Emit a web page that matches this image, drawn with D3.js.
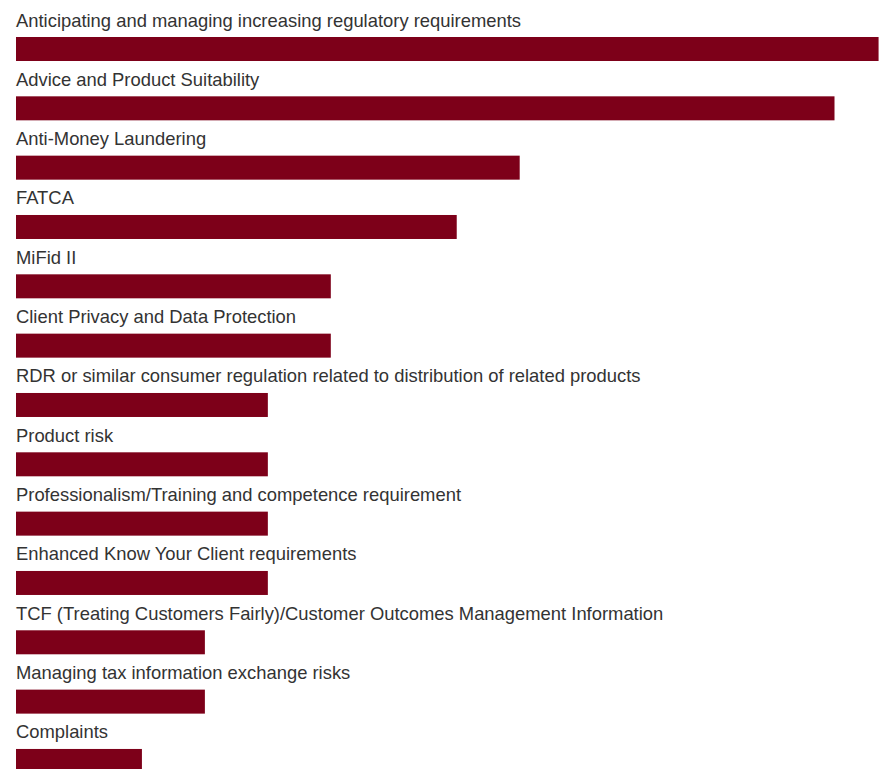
<!DOCTYPE html>
<html>
<head>
<meta charset="utf-8">
<script src="https://cdn.jsdelivr.net/npm/d3@7"></script>
<style>
  html, body { margin: 0; padding: 0; background: #fff; overflow: hidden; }
  svg { display: block; }
</style>
</head>
<body>
<div id="chart"></div>
<script>
// Categories, top to bottom
const categories = [
  "Anticipating and managing increasing regulatory requirements",
  "Advice and Product Suitability",
  "Anti-Money Laundering",
  "FATCA",
  "MiFid II",
  "Client Privacy and Data Protection",
  "RDR or similar consumer regulation related to distribution of related products",
  "Product risk",
  "Professionalism/Training and competence requirement",
  "Enhanced Know Your Client requirements",
  "TCF (Treating Customers Fairly)/Customer Outcomes Management Information",
  "Managing tax information exchange risks",
  "Complaints"
];

// Values
const values = [13.7, 13, 8, 7, 5, 5, 4, 4, 4, 4, 3, 3, 2];

const width = 879;
const height = 769;
const barColor = "#7d0019";
const barHeight = 24;

const data = categories.map((c, i) => ({ name: c, value: values[i] }));

const svg = d3.select("#chart").append("svg")
  .attr("width", width)
  .attr("height", height);

const x = d3.scaleLinear()
  .domain([0, 13])
  .range([16, 834.5]);

const y = d3.scaleBand()
  .domain(categories)
  .range([13, 13 + 59.33 * categories.length])
  .padding(0);

const row = svg.selectAll("g.row")
  .data(data)
  .enter().append("g")
  .attr("class", "row")
  .attr("transform", d => `translate(0,${y(d.name)})`);

// Label above each bar
row.append("text")
  .attr("x", 16)
  .attr("y", 13.5)
  .attr("font-family", "'Liberation Sans', Arial, sans-serif")
  .attr("font-size", "18.4px")
  .attr("fill", "#333")
  .text(d => d.name);

// Bars
row.append("rect")
  .attr("x", x(0))
  .attr("y", 24)
  .attr("width", d => x(d.value) - x(0))
  .attr("height", barHeight)
  .attr("fill", barColor);
</script>
</body>
</html>
